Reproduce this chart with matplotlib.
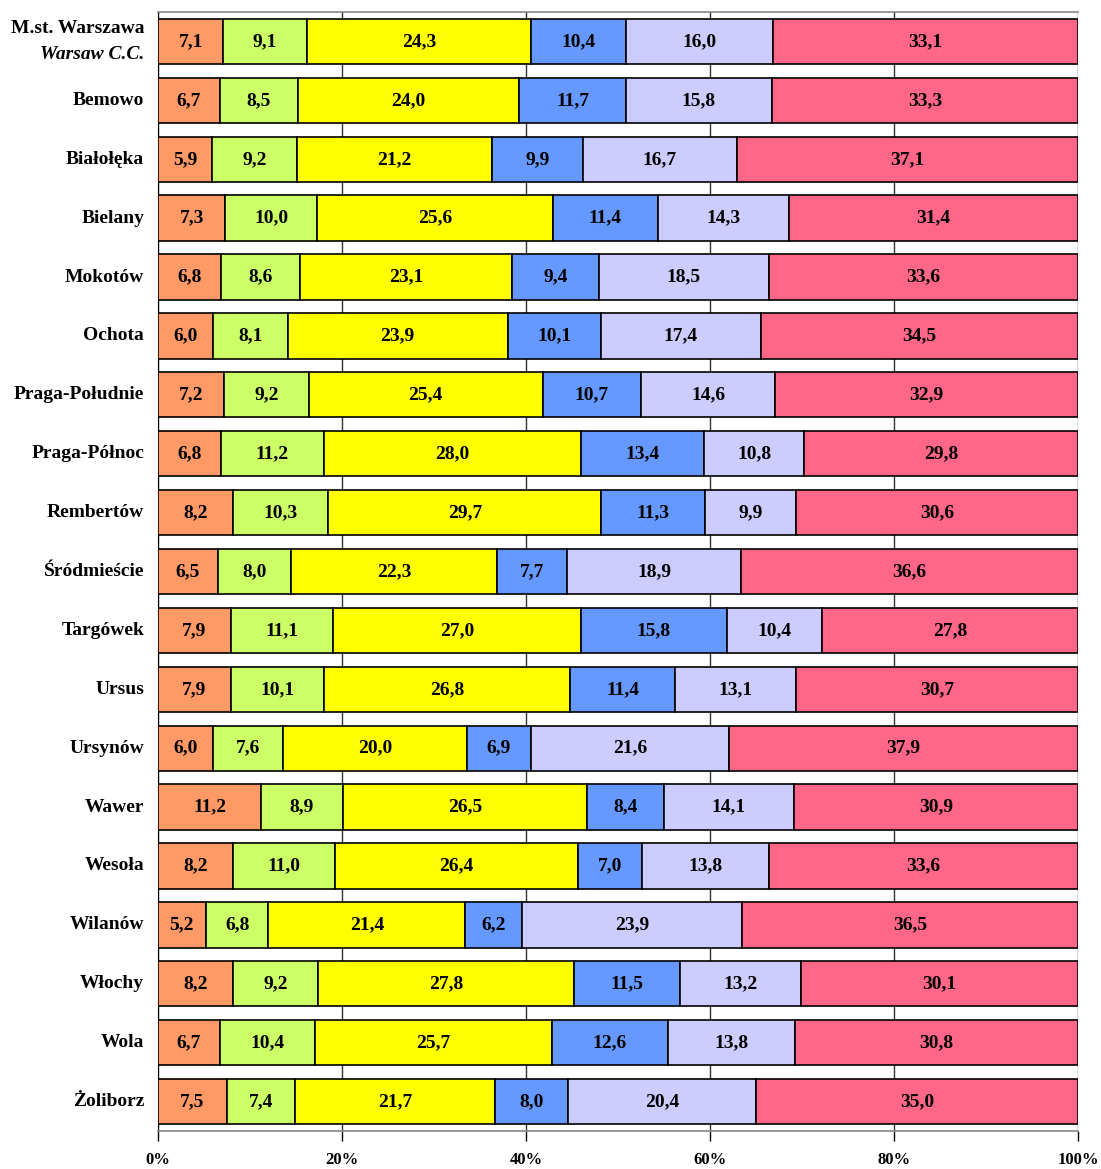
import matplotlib
matplotlib.use("Agg")
import matplotlib.pyplot as plt
import numpy as np

plt.rcParams['font.family'] = ['Liberation Serif', 'DejaVu Serif']

districts = ["M.st. Warszawa", "Bemowo", "Białołęka", "Bielany", "Mokotów", "Ochota",
             "Praga-Południe", "Praga-Północ", "Rembertów", "Śródmieście", "Targówek",
             "Ursus", "Ursynów", "Wawer", "Wesoła", "Wilanów", "Włochy", "Wola", "Żoliborz"]

s1 = [7.1, 6.7, 5.9, 7.3, 6.8, 6.0, 7.2, 6.8, 8.2, 6.5, 7.9, 7.9, 6.0, 11.2, 8.2, 5.2, 8.2, 6.7, 7.5]
s2 = [9.1, 8.5, 9.2, 10.0, 8.6, 8.1, 9.2, 11.2, 10.3, 8.0, 11.1, 10.1, 7.6, 8.9, 11.0, 6.8, 9.2, 10.4, 7.4]
s3 = [24.3, 24.0, 21.2, 25.6, 23.1, 23.9, 25.4, 28.0, 29.7, 22.3, 27.0, 26.8, 20.0, 26.5, 26.4, 21.4, 27.8, 25.7, 21.7]
s4 = [10.4, 11.7, 9.9, 11.4, 9.4, 10.1, 10.7, 13.4, 11.3, 7.7, 15.8, 11.4, 6.9, 8.4, 7.0, 6.2, 11.5, 12.6, 8.0]
s5 = [16.0, 15.8, 16.7, 14.3, 18.5, 17.4, 14.6, 10.8, 9.9, 18.9, 10.4, 13.1, 21.6, 14.1, 13.8, 23.9, 13.2, 13.8, 20.4]
s6 = [33.1, 33.3, 37.1, 31.4, 33.6, 34.5, 32.9, 29.8, 30.6, 36.6, 27.8, 30.7, 37.9, 30.9, 33.6, 36.5, 30.1, 30.8, 35.0]

series = [s1, s2, s3, s4, s5, s6]
colors = ["#FF9966", "#CCFF66", "#FFFF00", "#6699FF", "#CCCCFF", "#FF6688"]

fig = plt.figure(figsize=(11.01, 11.69), dpi=100)
ax = fig.add_axes([158 / 1101, 38 / 1169, 920 / 1101, 1119 / 1169])

y = np.arange(len(districts))
left = np.zeros(len(districts))
for vals, col in zip(series, colors):
    vals = np.array(vals)
    ax.barh(y, vals, left=left, height=0.77, color=col, edgecolor="black", linewidth=1.2, zorder=3)
    for yi, l, v in zip(y, left, vals):
        ax.text(l + v / 2, yi, f"{v:.1f}".replace(".", ","), ha="center", va="center",
                fontsize=14, fontweight="bold", zorder=4)
    left += vals

ax.set_xlim(0, 100)
ax.set_ylim(len(districts) - 0.5, -0.5)
ax.set_xticks([0, 20, 40, 60, 80, 100])
ax.set_xticklabels(["0%", "20%", "40%", "60%", "80%", "100%"], fontsize=12, fontweight="bold")
ax.tick_params(axis="x", length=7, width=1, color="black", pad=8)
ax.set_yticks([])
ax.xaxis.grid(True, color="#333333", linewidth=1, zorder=0)

for side in ["top", "bottom"]:
    ax.spines[side].set_color("#888888")
    ax.spines[side].set_linewidth(1.2)
ax.spines["left"].set_color("black")
ax.spines["right"].set_visible(False)

for yi, name in zip(y, districts):
    if yi == 0:
        ax.text(-1.5, yi - 0.22, name, ha="right", va="center", fontsize=14, fontweight="bold")
        ax.text(-1.5, yi + 0.22, "Warsaw C.C.", ha="right", va="center", fontsize=14,
                fontweight="bold", fontstyle="italic")
    else:
        ax.text(-1.5, yi, name, ha="right", va="center", fontsize=14, fontweight="bold")

fig.savefig("out.png", dpi=100)
